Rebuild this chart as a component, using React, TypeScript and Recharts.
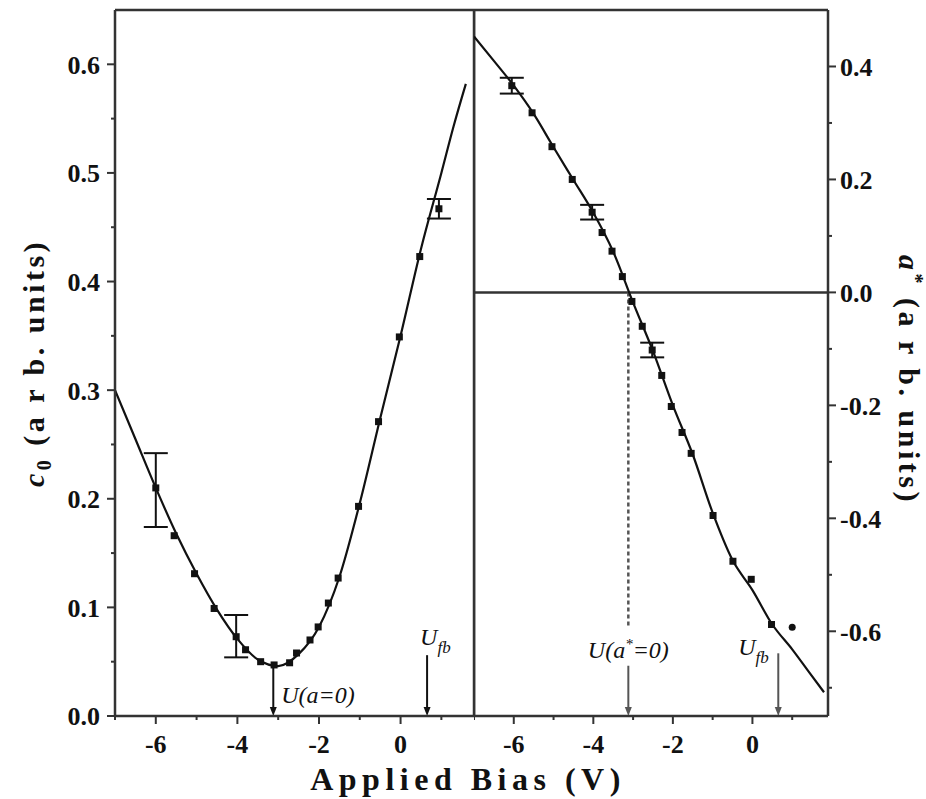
import React from "react";
import { ComposedChart, Line, Scatter, XAxis, YAxis, ErrorBar, ReferenceLine, Label } from "recharts";

const serif = '"Liberation Serif", "Times New Roman", serif';
const ink = "#111";
const frame = "#333";

// shared bias axis
const biasDomain = [-7, 1.8];
const biasTicks = [-7, -6, -5, -4, -3, -2, -1, 0, 1];
const biasLabels = [-6, -4, -2, 0];

// left panel: c0
const c0Ticks = [0, 0.05, 0.1, 0.15, 0.2, 0.25, 0.3, 0.35, 0.4, 0.45, 0.5, 0.55, 0.6];
const c0Labels = [0, 0.1, 0.2, 0.3, 0.4, 0.5, 0.6];
const c0Bias = [-6, -5.55, -5.05, -4.57, -4.03, -3.8, -3.43, -3.1, -2.72, -2.55, -2.22, -2.02, -1.77, -1.53, -1.03, -0.54, -0.03, 0.47, 0.94];
const c0Value = [0.21, 0.166, 0.131, 0.099, 0.073, 0.061, 0.05, 0.047, 0.049, 0.058, 0.07, 0.082, 0.104, 0.127, 0.193, 0.271, 0.349, 0.423, 0.467];
const c0ErrBias = [-6, -4.03, 0.94];
const c0ErrLow = [0.036, 0.019, 0.009];
const c0ErrHigh = [0.032, 0.02, 0.009];
const c0FitBias = [-7, -6.5, -6, -5.5, -5, -4.5, -4, -3.5, -3, -2.5, -2, -1.5, -1, -0.5, 0, 0.5, 1, 1.3, 1.6];
const c0FitValue = [0.3, 0.255, 0.21, 0.168, 0.131, 0.098, 0.071, 0.052, 0.046, 0.057, 0.082, 0.128, 0.196, 0.274, 0.35, 0.43, 0.5, 0.543, 0.582];

// right panel: a*
const aTicks = [-0.7, -0.6, -0.5, -0.4, -0.3, -0.2, -0.1, 0, 0.1, 0.2, 0.3, 0.4];
const aLabels = [-0.6, -0.4, -0.2, 0, 0.2, 0.4];
const aBias = [-6.05, -5.54, -5.04, -4.53, -4.03, -3.78, -3.53, -3.27, -3.03, -2.77, -2.52, -2.28, -2.04, -1.77, -1.54, -0.99, -0.49, -0.03, 0.48];
const aValue = [0.366, 0.318, 0.258, 0.2, 0.142, 0.106, 0.073, 0.028, -0.016, -0.06, -0.102, -0.147, -0.202, -0.248, -0.285, -0.395, -0.476, -0.508, -0.588];
const aErrBias = [-6.05, -4.03, -2.52];
const aErr = [0.014, 0.013, 0.013];
const aOddBias = [1.0];
const aOddValue = [-0.593];
const aFitBias = [-7, -6.5, -6, -5.5, -5, -4.5, -4, -3.5, -3, -2.5, -2, -1.5, -1, -0.5, 0, 0.5, 1, 1.4, 1.8];
const aFitValue = [0.453, 0.41, 0.366, 0.316, 0.257, 0.199, 0.141, 0.072, -0.018, -0.104, -0.2, -0.287, -0.39, -0.474, -0.527, -0.588, -0.632, -0.67, -0.708];

// annotation positions
const zeroBias = -3.12;
const flatBandBias = 0.65;

const c0Points = c0Bias.map((x, i) => {
  const k = c0ErrBias.indexOf(x);
  return { x, y: c0Value[i], err: k >= 0 ? [c0ErrLow[k], c0ErrHigh[k]] : undefined };
});
const c0Fit = c0FitBias.map((x, i) => ({ x, y: c0FitValue[i] }));
const aPoints = aBias.map((x, i) => {
  const k = aErrBias.indexOf(x);
  return { x, y: aValue[i], err: k >= 0 ? aErr[k] : undefined };
});
const aOdd = aOddBias.map((x, i) => ({ x, y: aOddValue[i] }));
const aFit = aFitBias.map((x, i) => ({ x, y: aFitValue[i] }));

const isIn = (list: number[], v: number) => list.some((l) => Math.abs(l - v) < 1e-9);

const BiasTick = (props: any) => {
  const { x, y, payload } = props;
  const major = isIn(biasLabels, payload.value);
  return (
    <g>
      <line x1={x} x2={x} y1={y} y2={y + (major ? 8 : 4)} stroke={frame} strokeWidth={2} />
      {major && (
        <text x={x} y={y + 37} textAnchor="middle" fontFamily={serif} fontWeight="bold" fontSize={26} fill={ink}>
          {String(payload.value)}
        </text>
      )}
    </g>
  );
};

const makeYTick = (labels: number[], side: "left" | "right") => (props: any) => {
  const { x, y, payload } = props;
  const major = isIn(labels, payload.value);
  const s = side === "left" ? -1 : 1;
  return (
    <g>
      <line x1={x} x2={x + s * (major ? 8 : 4)} y1={y} y2={y} stroke={frame} strokeWidth={2} />
      {major && (
        <text
          x={x + s * (side === "left" ? 15 : 12)}
          y={y}
          dy="0.36em"
          textAnchor={side === "left" ? "end" : "start"}
          fontFamily={serif}
          fontWeight="bold"
          fontSize={26}
          fill={ink}
        >
          {payload.value.toFixed(1)}
        </text>
      )}
    </g>
  );
};

const Square = (props: any) => (
  <rect x={props.cx - 3.5} y={props.cy - 3.5} width={7} height={7} fill={ink} />
);
const Dot = (props: any) => <circle cx={props.cx} cy={props.cy} r={3.5} fill={ink} />;

// vertical arrow pointing at the bias axis, with an optional label
const arrowShape = (stroke: string, label?: (x: number, bottom: number) => React.ReactNode) => (p: any) => {
  const top = Math.min(p.y1, p.y2);
  const bottom = Math.max(p.y1, p.y2);
  const x = p.x1;
  return (
    <g>
      <line x1={x} x2={x} y1={top} y2={bottom - 6} stroke={stroke} strokeWidth={2} />
      <path d={`M${x - 3.5},${bottom - 9} L${x + 3.5},${bottom - 9} L${x},${bottom} Z`} fill={stroke} />
      {label && label(x, bottom)}
    </g>
  );
};

const dashShape = (p: any) => (
  <line x1={p.x1} x2={p.x2} y1={p.y1} y2={p.y2} stroke="#555" strokeWidth={2.5} strokeDasharray="4 3" />
);

const uText = { fontFamily: serif, fontStyle: "italic" as const, fontSize: 24, fill: ink };

const Ufb = (x: number, y: number) => (
  <text x={x} y={y} {...uText}>
    U<tspan dy={8} fontSize={17}>fb</tspan>
  </text>
);

const LeftTitle = (props: any) => {
  const { viewBox } = props;
  const cx = 36;
  const cy = viewBox.y + viewBox.height / 2;
  return (
    <text
      transform={`translate(${cx},${cy}) rotate(-90)`}
      x={0}
      y={8}
      textAnchor="middle"
      fontFamily={serif}
      fontWeight="bold"
      fontSize={30}
      letterSpacing={3.5}
      fill={ink}
    >
      <tspan fontStyle="italic">c</tspan>
      <tspan dy={7} fontSize={20}>0</tspan>
      <tspan dy={-7}> (a r b. units)</tspan>
    </text>
  );
};

const RightTitle = (props: any) => {
  const { viewBox } = props;
  const cx = viewBox.x + 79;
  const cy = viewBox.y + viewBox.height / 2 + 17;
  return (
    <text
      transform={`translate(${cx},${cy}) rotate(90)`}
      x={0}
      y={8}
      textAnchor="middle"
      fontFamily={serif}
      fontWeight="bold"
      fontSize={30}
      letterSpacing={3.5}
      fill={ink}
    >
      <tspan fontStyle="italic">a</tspan>
      <tspan dy={-10} fontSize={20}>*</tspan>
      <tspan dy={10}> (a r b. units)</tspan>
    </text>
  );
};

const axisLine = { stroke: frame, strokeWidth: 2.5 };

export default function App() {
  return (
    <div style={{ position: "absolute", left: 0, top: 0, width: 926, height: 799, background: "#fff" }}>
      <div style={{ position: "absolute", left: 0, top: 0 }}>
        <ComposedChart width={480} height={799} margin={{ top: 10, right: 6, bottom: 53, left: 0 }}>
          <XAxis
            type="number"
            dataKey="x"
            domain={biasDomain}
            ticks={biasTicks}
            interval={0}
            allowDataOverflow
            height={30}
            tickSize={0}
            tickMargin={0}
            tickLine={false}
            axisLine={axisLine}
            tick={BiasTick}
          />
          <YAxis
            type="number"
            domain={[0, 0.65]}
            ticks={c0Ticks}
            interval={0}
            allowDataOverflow
            width={115}
            tickSize={0}
            tickMargin={0}
            tickLine={false}
            axisLine={axisLine}
            tick={makeYTick(c0Labels, "left")}
          >
            <Label content={LeftTitle} />
          </YAxis>
          <ReferenceLine y={0.65} stroke={frame} strokeWidth={2.5} ifOverflow="visible" />
          <ReferenceLine x={1.8} stroke={frame} strokeWidth={2.5} ifOverflow="visible" />
          <ReferenceLine
            segment={[{ x: zeroBias, y: 0.046 }, { x: zeroBias, y: 0 }]}
            shape={arrowShape(ink, (x, b) => (
              <text x={x + 8} y={b - 13} {...uText}>U(a=0)</text>
            ))}
          />
          <ReferenceLine
            segment={[{ x: flatBandBias, y: 0.056 }, { x: flatBandBias, y: 0 }]}
            shape={arrowShape(ink, (x, b) => Ufb(x - 7, b - 71))}
          />
          <Line data={c0Fit} dataKey="y" type="monotone" dot={false} stroke={ink} strokeWidth={2.2} isAnimationActive={false} />
          <Scatter data={c0Points} dataKey="y" shape={Square} isAnimationActive={false}>
            <ErrorBar dataKey="err" direction="y" width={12} stroke={ink} strokeWidth={2} />
          </Scatter>
        </ComposedChart>
      </div>

      <div style={{ position: "absolute", left: 474, top: 0 }}>
        <ComposedChart width={452} height={799} margin={{ top: 10, right: 0, bottom: 53, left: 0 }}>
          <XAxis
            type="number"
            dataKey="x"
            domain={[-7, 1.9]}
            ticks={biasTicks}
            interval={0}
            allowDataOverflow
            height={30}
            tickSize={0}
            tickMargin={0}
            tickLine={false}
            axisLine={axisLine}
            tick={BiasTick}
          />
          <YAxis
            type="number"
            orientation="right"
            domain={[-0.75, 0.5]}
            ticks={aTicks}
            interval={0}
            allowDataOverflow
            width={98}
            tickSize={0}
            tickMargin={0}
            tickLine={false}
            axisLine={axisLine}
            tick={makeYTick(aLabels, "right")}
          >
            <Label content={RightTitle} />
          </YAxis>
          <ReferenceLine y={0.5} stroke={frame} strokeWidth={2.5} ifOverflow="visible" />
          <ReferenceLine x={-7} stroke={frame} strokeWidth={2.5} ifOverflow="visible" />
          <ReferenceLine y={0} stroke={frame} strokeWidth={2.5} />
          <ReferenceLine segment={[{ x: zeroBias, y: 0 }, { x: zeroBias, y: -0.59 }]} shape={dashShape} />
          <ReferenceLine
            segment={[{ x: zeroBias, y: -0.661 }, { x: zeroBias, y: -0.75 }]}
            shape={arrowShape("#555", (x, b) => (
              <text x={x} y={b - 58} textAnchor="middle" {...uText}>
                U(a<tspan dy={-9} fontSize={15}>*</tspan><tspan dy={9}>=0)</tspan>
              </text>
            ))}
          />
          <ReferenceLine
            segment={[{ x: flatBandBias, y: -0.639 }, { x: flatBandBias, y: -0.75 }]}
            shape={arrowShape("#555", (x, b) => Ufb(x - 40, b - 61))}
          />
          <Line data={aFit} dataKey="y" type="monotone" dot={false} stroke={ink} strokeWidth={2.2} isAnimationActive={false} />
          <Scatter data={aPoints} dataKey="y" shape={Square} isAnimationActive={false}>
            <ErrorBar dataKey="err" direction="y" width={12} stroke={ink} strokeWidth={2} />
          </Scatter>
          <Scatter data={aOdd} dataKey="y" shape={Dot} isAnimationActive={false} />
        </ComposedChart>
      </div>

      <svg width={926} height={799} style={{ position: "absolute", left: 0, top: 0, pointerEvents: "none" }}>
        <text x={468} y={790} textAnchor="middle" fontFamily={serif} fontWeight="bold" fontSize={32} letterSpacing={5.5} fill={ink}>
          Applied Bias (V)
        </text>
      </svg>
    </div>
  );
}
